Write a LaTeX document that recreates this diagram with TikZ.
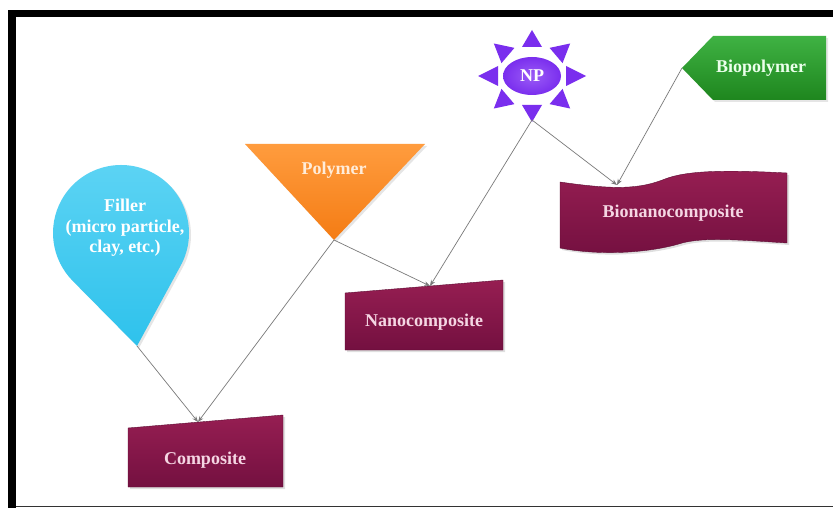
\documentclass[tikz,border=0pt]{standalone}
\usepackage{fontspec}
\setmainfont{Liberation Serif}
\usepackage{tikz}
\usetikzlibrary{arrows.meta,calc,shadows}

\definecolor{fillercyan}{HTML}{2EC2EC}
\definecolor{fillertop}{HTML}{5ED4F4}
\definecolor{polyorange}{HTML}{F47C14}
\definecolor{polytop}{HTML}{FF9C3E}
\definecolor{npviolet}{HTML}{7A2EEE}
\definecolor{nplight}{HTML}{9B5CF6}
\definecolor{biogreen}{HTML}{1E861E}
\definecolor{biotop}{HTML}{3FB243}
\definecolor{maroon}{HTML}{741040}
\definecolor{maroontop}{HTML}{961E52}
\definecolor{pinktext}{HTML}{F5D6E3}
\definecolor{linkgray}{HTML}{7A7A7A}

\begin{document}
\begin{tikzpicture}[
  x=1pt,y=1pt,
  every node/.style={font=\fontsize{18}{20.5}\selectfont\bfseries,align=center,inner sep=0pt},
  link/.style={-{Stealth[length=6pt,width=4.5pt]},draw=linkgray,line width=0.7pt},
  boxshape/.style={top color=maroontop,bottom color=maroon,draw=maroon!80!black,line width=0.4pt,
    drop shadow={opacity=0.25,shadow xshift=2pt,shadow yshift=-2pt}},
  boxtext/.style={text=pinktext}
]
  \useasboundingbox (0,0) rectangle (833,-508);
  \fill[white] (0,0) rectangle (833,-508);

  % frame
  \fill[black] (8,-10) rectangle (833,-17);
  \fill[black] (8,-10) rectangle (16,-508);
  \draw[black!80,line width=1.5pt] (16,-506.5) -- (833,-506.5);

  % Filler drop
  \coordinate (filler-tip) at (137,-346);
  \coordinate (filler-c) at (121,-233);
  \path[top color=fillertop,bottom color=fillercyan,drop shadow={opacity=0.2,shadow xshift=2pt,shadow yshift=-2pt}]
    (filler-tip) -- ($(filler-c)+(-28.5:68)$) arc[start angle=-28.5,end angle=224.7,radius=68] -- cycle;
  \node[text=white] (filler) at (125,-228) {Filler\\(micro particle,\\clay, etc.)};

  % Polymer triangle
  \coordinate (polymer-tip) at (334,-240);
  \path[top color=polytop,bottom color=polyorange,drop shadow={opacity=0.2,shadow xshift=2pt,shadow yshift=-2pt}]
    (245,-144) -- (425,-144) -- (polymer-tip) -- cycle;
  \node[text=orange!15] (polymer) at (334,-170) {Polymer};

  % NP sun
  \coordinate (npc) at (532,-76);
  \coordinate (np-tip) at (532,-120);
  \foreach \a in {0,45,...,315}{
    \coordinate (spt) at ($(npc)+({54*cos(\a)},{46*sin(\a)})$);
    \coordinate (spb) at ($(npc)+({34*cos(\a)},{29*sin(\a)})$);
    \fill[npviolet] (spt) -- ($(spb)!10pt!90:(spt)$) -- ($(spb)!10pt!-90:(spt)$) -- cycle;
  }
  \shade[inner color=nplight,outer color=npviolet] (npc) ellipse[x radius=29,y radius=19];
  \node[text=white] (np) at (npc) {NP};

  % Biopolymer arrow
  \coordinate (bio-tip) at (682,-68);
  \path[top color=biotop,bottom color=biogreen,drop shadow={opacity=0.2,shadow xshift=2pt,shadow yshift=-2pt}]
    (bio-tip) -- (713,-36) -- (826,-36) -- (826,-100) -- (713,-100) -- cycle;
  \node[text=green!8] (biopolymer) at (761,-68) {Biopolymer};

  % product boxes
  \coordinate (composite-in) at (198,-422);
  \path[boxshape] (128,-428) -- (283,-415) -- (283,-487) -- (128,-487) -- cycle;
  \node[boxtext] (composite) at (205,-460) {Composite};

  \coordinate (nano-in) at (430,-286);
  \path[boxshape] (345,-293) -- (503,-280) -- (503,-350) -- (345,-350) -- cycle;
  \node[boxtext] (nano) at (424,-322) {Nanocomposite};

  \coordinate (bionano-in) at (617,-185);
  \path[boxshape] (560,-182) .. controls (615,-190) and (640,-189) .. (665,-179)
    .. controls (688,-170) and (730,-170) .. (787,-173) -- (787,-243)
    .. controls (740,-240) and (705,-237) .. (682,-243)
    .. controls (650,-253) and (600,-256) .. (560,-248) -- cycle;
  \node[boxtext] (bionano) at (673,-213) {Bionanocomposite};

  \draw[link] (filler-tip) -- (composite-in);
  \draw[link] (polymer-tip) -- (composite-in);
  \draw[link] (polymer-tip) -- (nano-in);
  \draw[link] (np-tip) -- (nano-in);
  \draw[link] (np-tip) -- (bionano-in);
  \draw[link] (bio-tip) -- (bionano-in);
\end{tikzpicture}
\end{document}
